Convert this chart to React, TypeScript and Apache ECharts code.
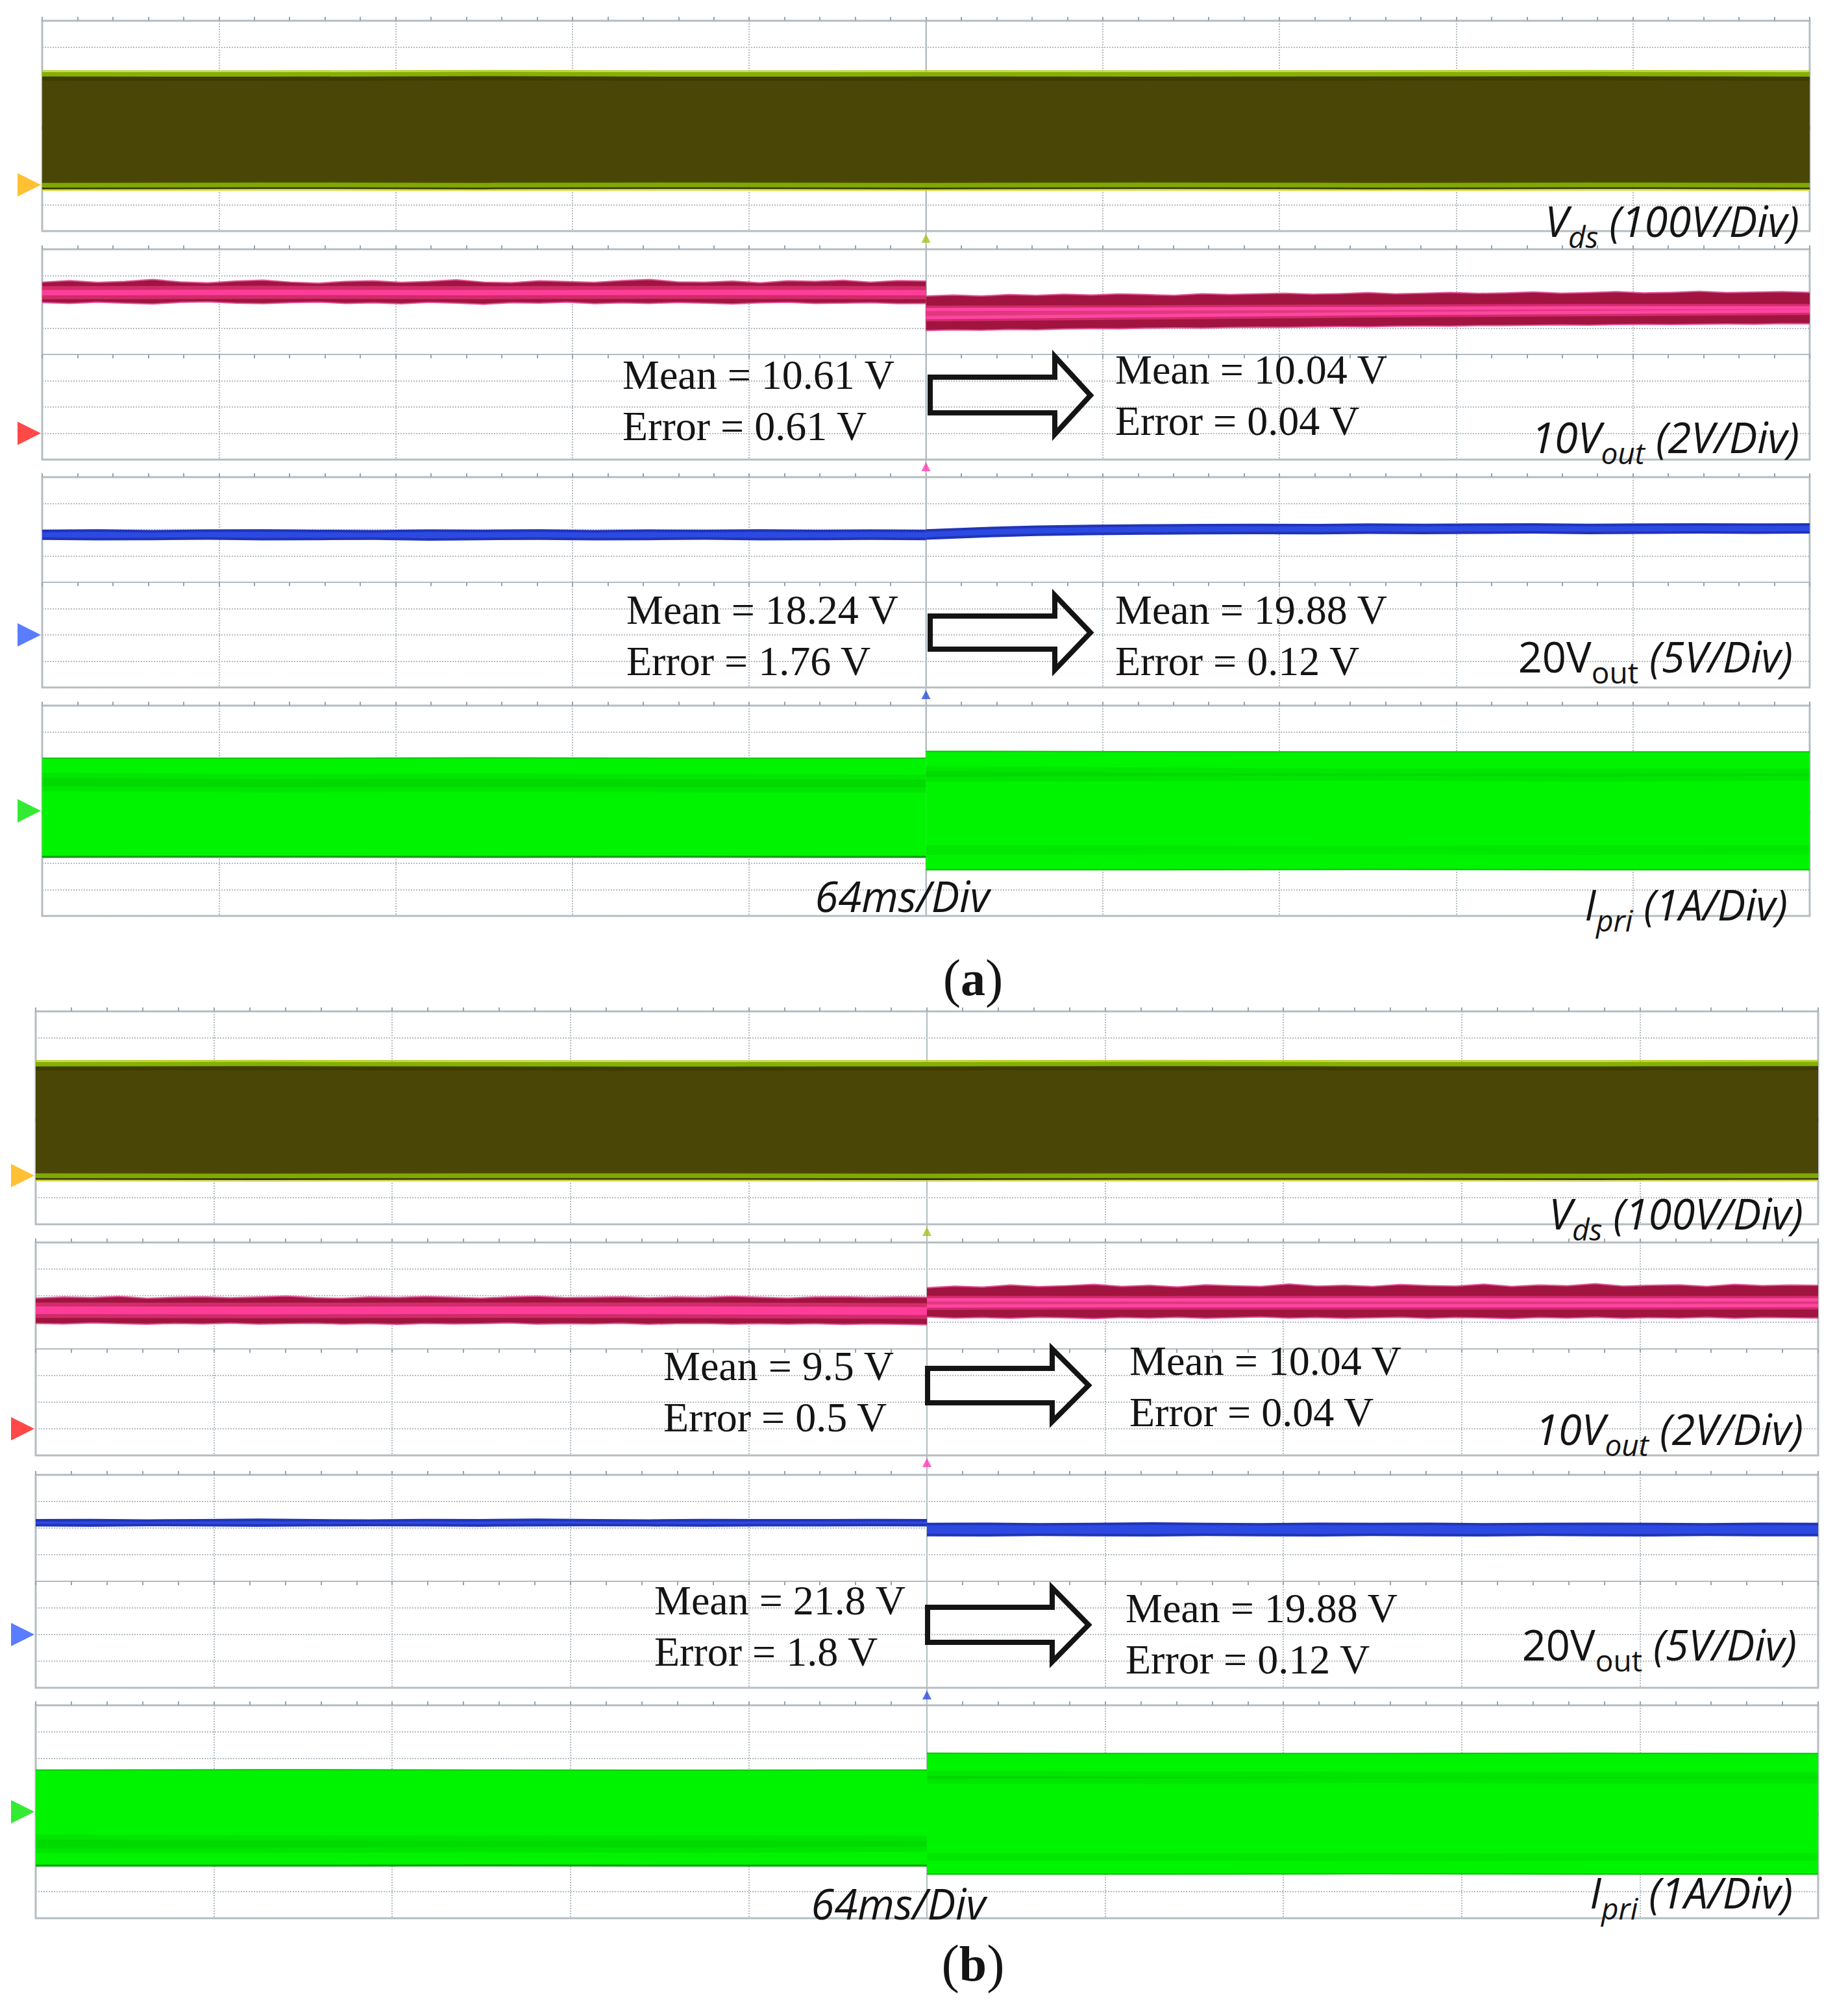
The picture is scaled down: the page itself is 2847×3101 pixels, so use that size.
import React, { useEffect, useRef } from "react";
import * as echarts from "echarts";

const PAGE_W = 2847;
const PAGE_H = 3101;

// ---------- time base (ms): trigger at 0, 64 ms/div, 10 divisions ----------
const TIME_MIN = -320;
const TIME_MAX = 320;
const TIME_PER_DIV = 64;
const DIV_HALF = 4; // 8 vertical divisions per panel

const T_FULL = [-320, -240, -160, -80, 0, 80, 160, 240, 320];
const T_PRE5 = [-320, -240, -160, -80, 0];
const T_POST5 = [0, 80, 160, 240, 320];
const T_PRE = [-320, -300, -280, -260, -240, -220, -200, -180, -160, -140, -120, -100, -80, -60, -40, -20, 0];
const T_POST = [0, 20, 40, 60, 80, 100, 120, 140, 160, 180, 200, 220, 240, 260, 280, 300, 320];
const T_PRE_F = [-320, -310, -300, -290, -280, -270, -260, -250, -240, -230, -220, -210, -200, -190, -180, -170, -160, -150, -140, -130, -120, -110, -100, -90, -80, -70, -60, -50, -40, -30, -20, -10, 0];
const T_POST_F = [0, 10, 20, 30, 40, 50, 60, 70, 80, 90, 100, 110, 120, 130, 140, 150, 160, 170, 180, 190, 200, 210, 220, 230, 240, 250, 260, 270, 280, 290, 300, 310, 320];

// ---------- channel scales (units per division) ----------
const SCALE_VDS = 100; // V/div
const SCALE_V10 = 2; // V/div
const SCALE_V20 = 5; // V/div
const SCALE_IPRI = 1; // A/div

// ground reference of each channel (divisions from panel centre): Vds, 10Vout, 20Vout, Ipri
const A_GROUND = [-2.24, -3, -2, 0];
const B_GROUND = [-2.17, -3, -2, 0];

// ================= (a) =================
const A_VDS_MAX = [421, 420, 422, 420, 421, 420, 421, 422, 420];
const A_VDS_MIN = [-1, 0, -1, 0, -1, 0, -1, 0, -1];
const A_V10_TOP_PRE = [11.5, 11.62, 11.48, 11.55, 11.7, 11.52, 11.45, 11.58, 11.66, 11.5, 11.42, 11.56, 11.6, 11.48, 11.55, 11.68, 11.5, 11.46, 11.6, 11.54, 11.48, 11.62, 11.7, 11.52, 11.5, 11.58, 11.45, 11.6, 11.56, 11.64, 11.5, 11.62, 11.58];
const A_V10_BOT_PRE = [9.95, 9.88, 9.98, 9.9, 9.84, 9.96, 10.0, 9.9, 9.86, 9.94, 9.98, 9.88, 9.92, 9.85, 9.96, 9.9, 9.82, 9.94, 9.9, 9.97, 9.86, 9.92, 9.88, 9.95, 9.9, 9.84, 9.93, 9.96, 9.88, 9.9, 9.94, 9.87, 9.88];
const A_V10_TOP_POST = [10.45, 10.52, 10.44, 10.55, 10.5, 10.58, 10.52, 10.6, 10.55, 10.5, 10.62, 10.56, 10.6, 10.66, 10.58, 10.62, 10.7, 10.6, 10.65, 10.72, 10.64, 10.68, 10.75, 10.66, 10.7, 10.78, 10.68, 10.72, 10.8, 10.7, 10.74, 10.78, 10.72];
const A_V10_BOT_POST = [7.82, 7.86, 7.84, 7.9, 7.88, 7.94, 7.96, 7.95, 8.0, 8.02, 8.0, 8.05, 8.08, 8.06, 8.1, 8.12, 8.1, 8.15, 8.16, 8.15, 8.2, 8.2, 8.22, 8.25, 8.22, 8.27, 8.28, 8.27, 8.3, 8.32, 8.3, 8.34, 8.33];
const A_V10_CORE_HI_PRE = [10.9, 10.92, 10.9, 10.92, 10.9];
const A_V10_CORE_LO_PRE = [10.5, 10.52, 10.5, 10.52, 10.5];
const A_V10_CORE_HI_POST = [9.42, 9.45, 9.5, 9.55, 9.55];
const A_V10_CORE_LO_POST = [8.8, 8.95, 9.1, 9.2, 9.3];
const A_V20_TOP_PRE = [20.0, 20.1, 19.95, 20.05, 20.1, 20.0, 19.95, 20.05, 20.0, 20.1, 19.95, 20.05, 20.0, 20.1, 20.0, 20.05, 20.0];
const A_V20_BOT_PRE = [18.05, 17.95, 18.0, 18.1, 17.95, 18.0, 18.05, 17.9, 18.0, 18.05, 17.95, 18.0, 18.1, 17.95, 18.0, 18.05, 18.0];
const A_V20_TOP_POST = [20.1, 20.5, 20.8, 20.95, 21.05, 21.1, 21.15, 21.1, 21.2, 21.15, 21.2, 21.25, 21.15, 21.2, 21.25, 21.2, 21.25];
const A_V20_BOT_POST = [18.1, 18.5, 18.8, 18.95, 19.05, 19.1, 19.15, 19.1, 19.2, 19.15, 19.2, 19.25, 19.15, 19.2, 19.25, 19.2, 19.25];
const A_IPRI_TOP_PRE = [2.0, 2.0, 2.01, 2.0, 2.0];
const A_IPRI_BOT_PRE = [-1.78, -1.77, -1.78, -1.77, -1.78];
const A_IPRI_TOP_POST = [2.26, 2.25, 2.24, 2.24, 2.24];
const A_IPRI_BOT_POST = [-2.24, -2.24, -2.23, -2.24, -2.24];
const A_IPRI_DARK_HI_PRE = [1.45, 1.4, 1.42, 1.4, 1.38];
const A_IPRI_DARK_LO_PRE = [0.75, 0.7, 0.72, 0.7, 0.7];
const A_IPRI_DARK1_HI_POST = [1.7, 1.65, 1.6, 1.62, 1.6];
const A_IPRI_DARK1_LO_POST = [1.1, 1.12, 1.15, 1.1, 1.15];
const A_IPRI_DARK2_HI_POST = [-1.3, -1.32, -1.35, -1.3, -1.3];
const A_IPRI_DARK2_LO_POST = [-1.68, -1.66, -1.65, -1.68, -1.66];

// ================= (b) =================
const B_VDS_MAX = [419, 420, 419, 418, 419, 420, 419, 419, 420];
const B_VDS_MIN = [0, -1, 0, 0, -1, 0, 0, -1, 0];
const B_V10_TOP_PRE = [9.82, 9.9, 9.85, 9.95, 9.8, 9.88, 9.92, 9.84, 9.9, 9.98, 9.85, 9.8, 9.9, 9.86, 9.94, 9.88, 9.82, 9.9, 9.96, 9.85, 9.88, 9.92, 9.84, 9.9, 9.86, 9.95, 9.88, 9.82, 9.9, 9.92, 9.86, 9.9, 9.88];
const B_V10_BOT_PRE = [7.92, 7.88, 7.95, 7.9, 7.85, 7.92, 7.88, 7.94, 7.86, 7.9, 7.93, 7.87, 7.9, 7.84, 7.92, 7.88, 7.9, 7.95, 7.86, 7.9, 7.88, 7.93, 7.85, 7.9, 7.92, 7.87, 7.9, 7.86, 7.9, 7.84, 7.88, 7.85, 7.82];
const B_V10_TOP_POST = [10.6, 10.72, 10.65, 10.8, 10.68, 10.75, 10.85, 10.7, 10.78, 10.66, 10.82, 10.74, 10.7, 10.88, 10.72, 10.78, 10.7, 10.84, 10.76, 10.72, 10.86, 10.7, 10.8, 10.75, 10.9, 10.72, 10.78, 10.82, 10.7, 10.85, 10.76, 10.8, 10.78];
const B_V10_BOT_POST = [8.4, 8.32, 8.36, 8.3, 8.38, 8.34, 8.28, 8.36, 8.32, 8.38, 8.3, 8.35, 8.4, 8.32, 8.36, 8.3, 8.34, 8.38, 8.3, 8.36, 8.33, 8.28, 8.36, 8.32, 8.38, 8.3, 8.35, 8.32, 8.38, 8.3, 8.36, 8.34, 8.32];
const B_V10_CORE_HI_PRE = [9.2, 9.18, 9.2, 9.2, 9.15];
const B_V10_CORE_LO_PRE = [8.62, 8.6, 8.62, 8.6, 8.55];
const B_V10_CORE_HI_POST = [9.7, 9.68, 9.7, 9.68, 9.7];
const B_V10_CORE_LO_POST = [9.22, 9.25, 9.25, 9.24, 9.26];
const B_V20_TOP_PRE = [21.7, 21.75, 21.65, 21.7, 21.8, 21.7, 21.65, 21.75, 21.7, 21.8, 21.7, 21.65, 21.75, 21.7, 21.7, 21.75, 21.7];
const B_V20_BOT_PRE = [20.3, 20.25, 20.35, 20.3, 20.25, 20.3, 20.35, 20.3, 20.25, 20.3, 20.35, 20.3, 20.25, 20.3, 20.3, 20.35, 20.3];
const B_V20_TOP_POST = [21.0, 21.05, 20.95, 21.0, 21.1, 21.0, 20.95, 21.05, 21.0, 21.05, 20.95, 21.0, 21.05, 21.0, 20.95, 21.05, 21.0];
const B_V20_BOT_POST = [18.45, 18.4, 18.5, 18.45, 18.4, 18.5, 18.45, 18.4, 18.5, 18.45, 18.4, 18.5, 18.45, 18.4, 18.5, 18.45, 18.45];
const B_IPRI_TOP_PRE = [1.57, 1.58, 1.57, 1.56, 1.57];
const B_IPRI_BOT_PRE = [-2.05, -2.05, -2.04, -2.05, -2.05];
const B_IPRI_TOP_POST = [2.2, 2.19, 2.19, 2.2, 2.19];
const B_IPRI_BOT_POST = [-2.34, -2.34, -2.33, -2.34, -2.34];
const B_IPRI_DARK_HI_PRE = [-0.85, -0.88, -0.9, -0.88, -0.9];
const B_IPRI_DARK_LO_PRE = [-1.55, -1.55, -1.52, -1.55, -1.5];
const B_IPRI_DARK1_HI_POST = [1.55, 1.52, 1.5, 1.5, 1.5];
const B_IPRI_DARK1_LO_POST = [1.05, 1.05, 1.08, 1.05, 1.06];
const B_IPRI_DARK2_HI_POST = [-1.55, -1.56, -1.55, -1.57, -1.55];
const B_IPRI_DARK2_LO_POST = [-1.85, -1.84, -1.86, -1.85, -1.85];

// ---------- annotation texts ----------
const MEAN_TEXTS: [string, number, number][] = [
  ["Mean = 10.61 V", 959, 577], ["Error = 0.61 V", 959, 656],
  ["Mean = 10.04 V", 1718, 569], ["Error = 0.04 V", 1718, 648],
  ["Mean = 18.24 V", 965, 939], ["Error = 1.76 V", 965, 1018],
  ["Mean = 19.88 V", 1718, 939], ["Error = 0.12 V", 1718, 1018],
  ["Mean = 9.5 V", 1022, 2104], ["Error = 0.5 V", 1022, 2183],
  ["Mean = 10.04 V", 1740, 2096], ["Error = 0.04 V", 1740, 2175],
  ["Mean = 21.8 V", 1008, 2465], ["Error = 1.8 V", 1008, 2544],
  ["Mean = 19.88 V", 1734, 2477], ["Error = 0.12 V", 1734, 2556],
];
const CHANNEL_LABELS: [string, number, number][] = [
  ["{i|V}{is|ds}{i| (100V/Div)}", 2772, 339],
  ["{i|10V}{is|out}{i| (2V/Div)}", 2772, 672],
  ["{u|20V}{us|out}{i| (5V/Div)}", 2762, 1010],
  ["{i|I}{is|pri}{i| (1A/Div)}", 2754, 1392],
  ["{i|V}{is|ds}{i| (100V/Div)}", 2778, 1868],
  ["{i|10V}{is|out}{i| (2V/Div)}", 2778, 2200],
  ["{u|20V}{us|out}{i| (5V/Div)}", 2768, 2532],
  ["{i|I}{is|pri}{i| (1A/Div)}", 2762, 2914],
];
const TIMEBASE_LABELS: [string, number, number][] = [
  ["64ms/Div", 1390, 1380],
  ["64ms/Div", 1384, 2932],
];
const CAPTIONS: [string, number, number][] = [
  ["{p|(}{b|a}{p|)}", 1499, 1507],
  ["{p|(}{b|b}{p|)}", 1499, 3025],
];
// arrows: [x0, headX, tipX, headTop, headBottom, shaftTop, shaftBottom]
const ARROWS = [
  [1433, 1625, 1680, 549, 669, 581, 636],
  [1433, 1625, 1680, 917, 1032, 949, 1000],
  [1429, 1621, 1677, 2078, 2190, 2108, 2161],
  [1429, 1621, 1677, 2446, 2560, 2476, 2530],
];

// ---------- styling ----------
const INK = "#141414";
const GRID_C = "#b3bcc1";
const BORDER_C = "#b6bec2";
const SANS = "'Open Sans', 'Noto Sans', sans-serif";
const SERIF = "'Liberation Serif', 'DejaVu Serif', serif";

const FIGS = [
  { left: 65, width: 2723, tops: [32, 384, 735, 1087], height: 324, ground: A_GROUND },
  { left: 55, width: 2746, tops: [1558, 1914, 2272, 2627], height: 328, ground: B_GROUND },
];

type Layer = {
  kind: "band" | "line";
  t: number[];
  hi: number[];
  lo?: number[];
  color: string;
  width?: number;
  pad?: number;
  dy?: number;
  opacity?: number;
};
const band = (t: number[], hi: number[], lo: number[], color: string, extra: Partial<Layer> = {}): Layer => ({ kind: "band", t, hi, lo, color, ...extra });
const line = (t: number[], v: number[], color: string, width: number, extra: Partial<Layer> = {}): Layer => ({ kind: "line", t, hi: v, color, width, ...extra });

function vdsLayers(mx: number[], mn: number[]): Layer[] {
  return [
    band(T_FULL, mx, mn, "#4a4706"),
    line(T_FULL, mx, "#3e3b00", 6, { dy: 7 }),
    line(T_FULL, mx, "#b9cc20", 2, { dy: -5 }),
    line(T_FULL, mx, "#86b000", 7),
    line(T_FULL, mn, "#7fa800", 7),
    line(T_FULL, mn, "#3a3800", 3, { dy: 5 }),
    line(T_FULL, mn, "#d4dc34", 2, { dy: 8 }),
  ];
}
function v10Layers(tp: number[], bp: number[], tq: number[], bq: number[], chp: number[], clp: number[], chq: number[], clq: number[]): Layer[] {
  return [
    band(T_PRE_F, tp, bp, "#a1143f"),
    band(T_POST_F, tq, bq, "#a1143f"),
    line(T_PRE_F, tp, "#e2559a", 2),
    line(T_PRE_F, bp, "#e2559a", 2),
    line(T_POST_F, tq, "#e2559a", 2),
    line(T_POST_F, bq, "#e2559a", 2),
    band(T_PRE5, chp, clp, "#cf2c6a", { pad: 6 }),
    band(T_PRE5, chp, clp, "#ff3d99"),
    band(T_POST5, chq, clq, "#cf2c6a", { pad: 6 }),
    band(T_POST5, chq, clq, "#e0387e"),
    line(T_POST5, chq, "#ff45a2", 5),
    line(T_POST5, clq, "#ff45a2", 5),
  ];
}
function v20Layers(tp: number[], bp: number[], tq: number[], bq: number[]): Layer[] {
  return [
    band(T_PRE, tp, bp, "#2034b8"),
    band(T_POST, tq, bq, "#2034b8"),
    band(T_PRE, tp, bp, "#2c4ae2", { pad: -4 }),
    band(T_POST, tq, bq, "#2c4ae2", { pad: -4 }),
  ];
}
function ipriLayers(tp: number[], bp: number[], tq: number[], bq: number[], d0h: number[], d0l: number[], d1h: number[], d1l: number[], d2h: number[], d2l: number[]): Layer[] {
  return [
    band(T_PRE5, tp, bp, "#00f400"),
    band(T_POST5, tq, bq, "#00f400"),
    band(T_PRE5, d0h, d0l, "#00b400", { opacity: 0.22 }),
    band(T_PRE5, d0h, d0l, "#00a800", { opacity: 0.18, pad: -8 }),
    band(T_POST5, d1h, d1l, "#00b400", { opacity: 0.22 }),
    band(T_POST5, d1h, d1l, "#00a800", { opacity: 0.18, pad: -8 }),
    band(T_POST5, d2h, d2l, "#00b400", { opacity: 0.2 }),
    line(T_PRE5, bp, "#009a00", 3, { dy: -1 }),
    line(T_POST5, bq, "#00c000", 2),
    line(T_PRE5, tp, "#00c800", 2),
    line(T_POST5, tq, "#00c800", 2),
  ];
}

const PANEL_LAYERS: Layer[][] = [
  vdsLayers(A_VDS_MAX, A_VDS_MIN),
  v10Layers(A_V10_TOP_PRE, A_V10_BOT_PRE, A_V10_TOP_POST, A_V10_BOT_POST, A_V10_CORE_HI_PRE, A_V10_CORE_LO_PRE, A_V10_CORE_HI_POST, A_V10_CORE_LO_POST),
  v20Layers(A_V20_TOP_PRE, A_V20_BOT_PRE, A_V20_TOP_POST, A_V20_BOT_POST),
  ipriLayers(A_IPRI_TOP_PRE, A_IPRI_BOT_PRE, A_IPRI_TOP_POST, A_IPRI_BOT_POST, A_IPRI_DARK_HI_PRE, A_IPRI_DARK_LO_PRE, A_IPRI_DARK1_HI_POST, A_IPRI_DARK1_LO_POST, A_IPRI_DARK2_HI_POST, A_IPRI_DARK2_LO_POST),
  vdsLayers(B_VDS_MAX, B_VDS_MIN),
  v10Layers(B_V10_TOP_PRE, B_V10_BOT_PRE, B_V10_TOP_POST, B_V10_BOT_POST, B_V10_CORE_HI_PRE, B_V10_CORE_LO_PRE, B_V10_CORE_HI_POST, B_V10_CORE_LO_POST),
  v20Layers(B_V20_TOP_PRE, B_V20_BOT_PRE, B_V20_TOP_POST, B_V20_BOT_POST),
  ipriLayers(B_IPRI_TOP_PRE, B_IPRI_BOT_PRE, B_IPRI_TOP_POST, B_IPRI_BOT_POST, B_IPRI_DARK_HI_PRE, B_IPRI_DARK_LO_PRE, B_IPRI_DARK1_HI_POST, B_IPRI_DARK1_LO_POST, B_IPRI_DARK2_HI_POST, B_IPRI_DARK2_LO_POST),
];
const SCALES = [SCALE_VDS, SCALE_V10, SCALE_V20, SCALE_IPRI];
const GROUND_COLORS = ["#ffb000", "#ff1a1a", "#2f5cff", "#00e600"];
const TRIGGER_COLORS = ["#a6c21a", "#ff3cb4", "#2b4fe0"];

function buildOption() {
  const grid: any[] = [];
  const xAxis: any[] = [];
  const yAxis: any[] = [];
  const series: any[] = [];
  const graphic: any[] = [];

  FIGS.forEach((fig, f) => {
    const cx = fig.left + fig.width / 2;
    graphic.push({
      type: "line", z: 1, silent: true,
      shape: { x1: cx, y1: fig.tops[0], x2: cx, y2: fig.tops[3] + fig.height },
      style: { stroke: GRID_C, lineWidth: 2 },
    });
    fig.tops.forEach((top, row) => {
      const p = f * 4 + row;
      const ground = fig.ground[row];
      const scale = SCALES[row];
      grid.push({ left: fig.left, top, width: fig.width, height: fig.height, show: true, borderColor: BORDER_C, borderWidth: 3, backgroundColor: "#ffffff" });
      const axisCommon = {
        gridIndex: p, type: "value", min: TIME_MIN, max: TIME_MAX, interval: TIME_PER_DIV,
        axisLine: { show: true, onZero: true, lineStyle: { color: GRID_C, width: 2 } },
        axisTick: { show: true, inside: false, length: 6, lineStyle: { color: "#9aa4a8", width: 2 } },
        minorTick: { show: true, splitNumber: 5, length: 6, lineStyle: { color: "#9aa4a8", width: 2 } },
        axisLabel: { show: false },
      };
      xAxis.push({ ...axisCommon, position: "bottom", splitLine: { show: true, lineStyle: { color: GRID_C, type: "dotted", width: 2 } } });
      xAxis.push({ ...axisCommon, position: "top", splitLine: { show: false } });
      yAxis.push({
        gridIndex: p, type: "value", min: -DIV_HALF, max: DIV_HALF, interval: 1,
        axisLine: { show: true, onZero: true, lineStyle: { color: GRID_C, width: 2 } },
        axisTick: { show: false }, axisLabel: { show: false },
        splitLine: { show: true, lineStyle: { color: GRID_C, type: "dotted", width: 2 } },
      });
      const layers = PANEL_LAYERS[p];
      const toDiv = (v: number) => ground + v / scale;
      series.push({
        type: "custom", xAxisIndex: 2 * p, yAxisIndex: p, silent: true, clip: false, z: 2,
        data: [[0, 0]],
        renderItem: (_params: any, api: any) => {
          const children = layers.map((L) => {
            const dy = L.dy || 0;
            if (L.kind === "band") {
              const pad = L.pad || 0;
              const pts: number[][] = [];
              for (let i = 0; i < L.t.length; i++) {
                const c = api.coord([L.t[i], toDiv(L.hi[i])]);
                pts.push([c[0], c[1] - pad + dy]);
              }
              for (let i = L.t.length - 1; i >= 0; i--) {
                const c = api.coord([L.t[i], toDiv((L.lo as number[])[i])]);
                pts.push([c[0], c[1] + pad + dy]);
              }
              return { type: "polygon", shape: { points: pts }, style: { fill: L.color, opacity: L.opacity ?? 1 } };
            }
            const pts = L.t.map((t, i) => {
              const c = api.coord([t, toDiv(L.hi[i])]);
              return [c[0], c[1] + dy];
            });
            return { type: "polyline", shape: { points: pts }, style: { stroke: L.color, lineWidth: L.width, fill: "none", opacity: L.opacity ?? 1 } };
          });
          return { type: "group", children };
        },
      });
      series.push({
        type: "scatter", xAxisIndex: 2 * p, yAxisIndex: p, silent: true, clip: false, z: 5,
        data: [[TIME_MIN, ground]],
        symbol: "path://M0 0 L10 6 L0 12 Z", symbolSize: [36, 36], symbolOffset: [-20, 0],
        itemStyle: { color: GROUND_COLORS[row] },
      });
      if (row < 3) {
        series.push({
          type: "scatter", xAxisIndex: 2 * p, yAxisIndex: p, silent: true, clip: false, z: 5,
          data: [[0, -DIV_HALF]],
          symbol: "triangle", symbolSize: [14, 14], symbolOffset: [0, 11],
          itemStyle: { color: TRIGGER_COLORS[row] },
        });
      }
    });
  });

  ARROWS.forEach(([x0, hx, tx, ht, hb, st, sb]) => {
    const mid = (ht + hb) / 2;
    graphic.push({
      type: "polygon", z: 100, silent: true,
      shape: { points: [[x0, st], [hx, st], [hx, ht], [tx, mid], [hx, hb], [hx, sb], [x0, sb]] },
      style: { fill: "rgba(255,255,255,0)", stroke: INK, lineWidth: 8, lineJoin: "miter" },
    });
  });
  MEAN_TEXTS.forEach(([text, x, y]) => {
    graphic.push({
      type: "text", z: 100, silent: true, x, y,
      style: { text, fill: INK, fontFamily: SERIF, fontSize: 64, align: "left", verticalAlign: "middle", textAlign: "left", textVerticalAlign: "middle" },
    });
  });
  const labelRich = {
    i: { fontFamily: SANS, fontStyle: "italic", fontSize: 65, lineHeight: 64, verticalAlign: "top", fill: INK },
    is: { fontFamily: SANS, fontStyle: "italic", fontSize: 46, lineHeight: 46, padding: [34, 0, 0, 0], verticalAlign: "top", fill: INK },
    u: { fontFamily: SANS, fontStyle: "normal", fontSize: 65, lineHeight: 64, verticalAlign: "top", fill: INK },
    us: { fontFamily: SANS, fontStyle: "normal", fontSize: 46, lineHeight: 46, padding: [34, 0, 0, 0], verticalAlign: "top", fill: INK },
  };
  CHANNEL_LABELS.forEach(([text, x, y]) => {
    graphic.push({
      type: "text", z: 100, silent: true, x, y: y - 32,
      style: { text, rich: labelRich, fill: INK, fontFamily: SANS, fontSize: 65, align: "right", verticalAlign: "top", textAlign: "right", textVerticalAlign: "top" },
    });
  });
  TIMEBASE_LABELS.forEach(([text, x, y]) => {
    graphic.push({
      type: "text", z: 100, silent: true, x, y,
      style: { text, fill: INK, fontFamily: SANS, fontStyle: "italic", fontSize: 65, align: "center", verticalAlign: "middle", textAlign: "center", textVerticalAlign: "middle" },
    });
  });
  CAPTIONS.forEach(([text, x, y]) => {
    graphic.push({
      type: "text", z: 100, silent: true, x, y,
      style: {
        text, fill: INK, fontFamily: SERIF, fontSize: 80, align: "center", verticalAlign: "middle", textAlign: "center", textVerticalAlign: "middle",
        rich: {
          p: { fontFamily: SERIF, fontSize: 82, fill: INK },
          b: { fontFamily: SERIF, fontSize: 76, fontWeight: "bold", fill: INK },
        },
      },
    });
  });

  return { animation: false, backgroundColor: "#ffffff", grid, xAxis, yAxis, series, graphic };
}

export default function App() {
  const ref = useRef<HTMLDivElement>(null);
  useEffect(() => {
    if (!ref.current) return;
    const chart = echarts.init(ref.current, null, { renderer: "svg", width: PAGE_W, height: PAGE_H });
    chart.setOption(buildOption() as any);
    return () => chart.dispose();
  }, []);
  return <div ref={ref} style={{ position: "absolute", left: 0, top: 0, width: PAGE_W, height: PAGE_H, background: "#fff" }} />;
}
